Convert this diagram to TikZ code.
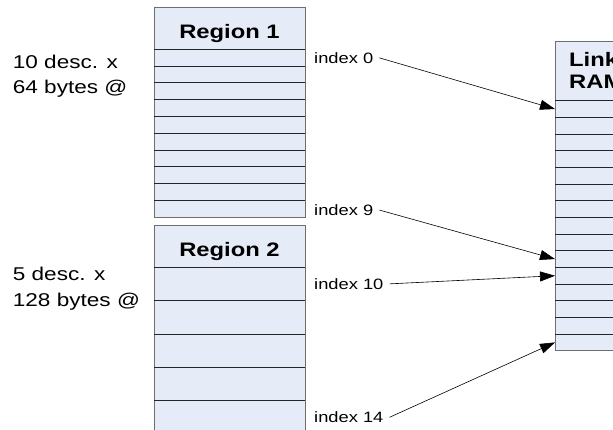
\documentclass[tikz,border=0pt]{standalone}
\usepackage{fontspec}
\setmainfont{Liberation Sans}
\usetikzlibrary{arrows.meta}
\definecolor{boxfill}{RGB}{230,236,247}
\definecolor{boxedge}{RGB}{110,110,110}
\newcommand\hst[1]{\scalebox{1.22}[1]{#1}}
\begin{document}
\begin{tikzpicture}[x=1pt,y=-1pt,
  membox/.style={draw=boxedge,fill=boxfill,line width=0.8pt},
  rowline/.style={draw=black!85,line width=0.8pt},
  headtxt/.style={font=\fontsize{19.5}{21.7}\selectfont\bfseries,inner sep=0pt,anchor=base west,align=left},
  sidetxt/.style={font=\fontsize{18.5}{25}\selectfont,inner sep=0pt,anchor=base west,align=left},
  idxtxt/.style={font=\fontsize{15}{18}\selectfont,inner sep=0pt,anchor=base west,text depth=0pt},
  ptr/.style={draw=black,line width=0.6pt,-{Triangle[length=15pt,width=10pt]}}]
\useasboundingbox (0,0) rectangle (613,430);
\clip (0,0) rectangle (613,430);
% Region 1
\path[membox] (154,7) rectangle (305,217);
\node[draw=none] (r1) at (229.5,28) {};
\foreach \k in {0,...,9} {\draw[rowline] (154,{49.3+16.77*\k}) -- (305,{49.3+16.77*\k});}
\node[headtxt,anchor=base] (r1t) at (229.5,38.3) {\hst{Region 1}};
% Region 2
\path[membox] (154,225) rectangle (305,440);
\foreach \k in {0,...,4} {\draw[rowline] (154,{267.3+33.33*\k}) -- (305,{267.3+33.33*\k});}
\node[headtxt,anchor=base] (r2t) at (229.5,256.3) {\hst{Region 2}};
% Link RAM
\path[membox] (555,41.7) rectangle (710,350.7);
\foreach \k in {0,...,14} {\draw[rowline] (555,{100.7+16.67*\k}) -- (710,{100.7+16.67*\k});}
\node[headtxt] (lt1) at (569,66.7) {\hst{Link}};
\node[headtxt] (lt2) at (569,88.3) {\hst{RAM}};
\foreach \k in {0,9,10,14} {\coordinate (ram\k) at (555,{100.7+16.67*\k+8.33});}
% side labels
\node[sidetxt] (s1a) at (12.7,68.3) {\hst{10 desc. x}};
\node[sidetxt] (s1b) at (12.7,93.3) {\hst{64 bytes @}};
\node[sidetxt] (s2a) at (12.7,280) {\hst{5 desc. x}};
\node[sidetxt] (s2b) at (12.7,306.7) {\hst{128 bytes @}};
% index labels
\node[idxtxt] (i0) at (314,63.3) {\hst{index 0}};
\node[idxtxt] (i9) at (314,215.5) {\hst{index 9}};
\node[idxtxt] (i10) at (314,289.3) {\hst{index 10}};
\node[idxtxt] (i14) at (314,422.7) {\hst{index 14}};
% pointers
\draw[ptr] ([xshift=6pt]i0.east) -- (ram0);
\draw[ptr] ([xshift=6pt]i9.east) -- (ram9);
\draw[ptr] ([xshift=6pt]i10.east) -- (ram10);
\draw[ptr] ([xshift=6pt]i14.east) -- (ram14);
\end{tikzpicture}
\end{document}
